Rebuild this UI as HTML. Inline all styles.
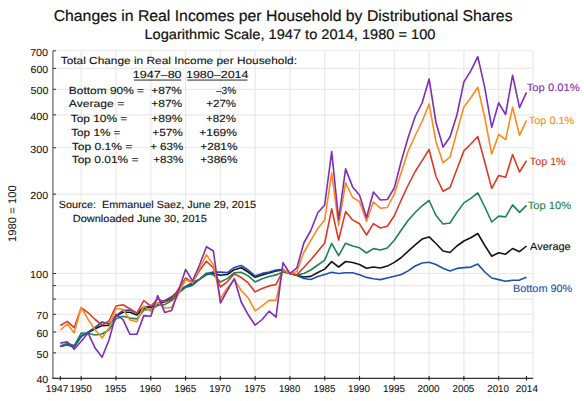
<!DOCTYPE html>
<html><head><meta charset="utf-8"><style>
html,body{margin:0;padding:0;background:#fff;overflow:hidden;}
svg{display:block;font-family:"Liberation Sans",sans-serif;text-rendering:geometricPrecision;}
</style></head><body>
<svg width="584" height="401" viewBox="0 0 584 401">
<rect width="584" height="401" fill="#fff"/>
<g stroke="#e9e9e9" stroke-width="1.2">
<line x1="53" x2="533" y1="378.38" y2="378.38"/>
<line x1="53" x2="533" y1="352.84" y2="352.84"/>
<line x1="53" x2="533" y1="331.97" y2="331.97"/>
<line x1="53" x2="533" y1="314.32" y2="314.32"/>
<line x1="53" x2="533" y1="299.04" y2="299.04"/>
<line x1="53" x2="533" y1="285.56" y2="285.56"/>
<line x1="53" x2="533" y1="273.50" y2="273.50"/>
<line x1="53" x2="533" y1="194.16" y2="194.16"/>
<line x1="53" x2="533" y1="147.75" y2="147.75"/>
<line x1="53" x2="533" y1="114.83" y2="114.83"/>
<line x1="53" x2="533" y1="89.29" y2="89.29"/>
<line x1="53" x2="533" y1="68.42" y2="68.42"/>
<line x1="53" x2="533" y1="50.77" y2="50.77"/>
<line x1="81.19" x2="81.19" y1="50.77" y2="378"/>
<line x1="115.98" x2="115.98" y1="50.77" y2="378"/>
<line x1="150.77" x2="150.77" y1="50.77" y2="378"/>
<line x1="185.56" x2="185.56" y1="50.77" y2="378"/>
<line x1="220.35" x2="220.35" y1="50.77" y2="378"/>
<line x1="255.14" x2="255.14" y1="50.77" y2="378"/>
<line x1="289.93" x2="289.93" y1="50.77" y2="378"/>
<line x1="324.72" x2="324.72" y1="50.77" y2="378"/>
<line x1="359.51" x2="359.51" y1="50.77" y2="378"/>
<line x1="394.30" x2="394.30" y1="50.77" y2="378"/>
<line x1="429.09" x2="429.09" y1="50.77" y2="378"/>
<line x1="463.88" x2="463.88" y1="50.77" y2="378"/>
<line x1="498.67" x2="498.67" y1="50.77" y2="378"/>
<line x1="533.0" x2="533.0" y1="50.77" y2="378"/>
</g>
<text x="60.72" y="64.30" font-size="10.30" fill="#111" stroke="#111" stroke-width="0.12" textLength="236.23" lengthAdjust="spacingAndGlyphs" xml:space="preserve">Total Change in Real Income per Household:</text>
<text x="132.73" y="78.40" font-size="10.30" fill="#111" stroke="#111" stroke-width="0.12" textLength="48.90" lengthAdjust="spacingAndGlyphs" xml:space="preserve">1947–80</text>
<text x="185.97" y="78.40" font-size="10.30" fill="#111" stroke="#111" stroke-width="0.12" textLength="62.52" lengthAdjust="spacingAndGlyphs" xml:space="preserve">1980–2014</text>
<text x="68.81" y="93.90" font-size="10.30" fill="#111" stroke="#111" stroke-width="0.12" textLength="75.26" lengthAdjust="spacingAndGlyphs" xml:space="preserve">Bottom 90% =</text>
<text x="68.82" y="107.00" font-size="10.30" fill="#111" stroke="#111" stroke-width="0.12" textLength="55.44" lengthAdjust="spacingAndGlyphs" xml:space="preserve">Average =</text>
<text x="70.74" y="121.60" font-size="10.30" fill="#111" stroke="#111" stroke-width="0.12" textLength="56.57" lengthAdjust="spacingAndGlyphs" xml:space="preserve">Top 10% =</text>
<text x="71.19" y="135.70" font-size="10.30" fill="#111" stroke="#111" stroke-width="0.12" textLength="49.28" lengthAdjust="spacingAndGlyphs" xml:space="preserve">Top 1% =</text>
<text x="71.81" y="149.50" font-size="10.30" fill="#111" stroke="#111" stroke-width="0.12" textLength="60.47" lengthAdjust="spacingAndGlyphs" xml:space="preserve">Top 0.1% =</text>
<text x="71.72" y="163.10" font-size="10.30" fill="#111" stroke="#111" stroke-width="0.12" textLength="66.76" lengthAdjust="spacingAndGlyphs" xml:space="preserve">Top 0.01% =</text>
<text x="151.22" y="93.90" font-size="10.30" fill="#111" stroke="#111" stroke-width="0.12" textLength="30.62" lengthAdjust="spacingAndGlyphs" xml:space="preserve">+87%</text>
<text x="151.27" y="107.00" font-size="10.30" fill="#111" stroke="#111" stroke-width="0.12" textLength="31.00" lengthAdjust="spacingAndGlyphs" xml:space="preserve">+87%</text>
<text x="151.17" y="121.60" font-size="10.30" fill="#111" stroke="#111" stroke-width="0.12" textLength="31.24" lengthAdjust="spacingAndGlyphs" xml:space="preserve">+89%</text>
<text x="152.26" y="135.70" font-size="10.30" fill="#111" stroke="#111" stroke-width="0.12" textLength="30.54" lengthAdjust="spacingAndGlyphs" xml:space="preserve">+57%</text>
<text x="150.16" y="149.50" font-size="10.30" fill="#111" stroke="#111" stroke-width="0.12" textLength="33.12" lengthAdjust="spacingAndGlyphs" xml:space="preserve">+ 63%</text>
<text x="153.19" y="163.10" font-size="10.30" fill="#111" stroke="#111" stroke-width="0.12" textLength="30.09" lengthAdjust="spacingAndGlyphs" xml:space="preserve">+83%</text>
<text x="215.94" y="93.90" font-size="10.30" fill="#111" stroke="#111" stroke-width="0.12" textLength="20.15" lengthAdjust="spacingAndGlyphs" xml:space="preserve">–3%</text>
<text x="206.31" y="107.00" font-size="10.30" fill="#111" stroke="#111" stroke-width="0.12" textLength="29.83" lengthAdjust="spacingAndGlyphs" xml:space="preserve">+27%</text>
<text x="206.14" y="121.60" font-size="10.30" fill="#111" stroke="#111" stroke-width="0.12" textLength="29.82" lengthAdjust="spacingAndGlyphs" xml:space="preserve">+82%</text>
<text x="199.17" y="135.70" font-size="10.30" fill="#111" stroke="#111" stroke-width="0.12" textLength="37.87" lengthAdjust="spacingAndGlyphs" xml:space="preserve">+169%</text>
<text x="200.25" y="149.50" font-size="10.30" fill="#111" stroke="#111" stroke-width="0.12" textLength="37.22" lengthAdjust="spacingAndGlyphs" xml:space="preserve">+281%</text>
<text x="200.20" y="163.10" font-size="10.30" fill="#111" stroke="#111" stroke-width="0.12" textLength="37.30" lengthAdjust="spacingAndGlyphs" xml:space="preserve">+386%</text>
<text x="58.70" y="208.30" font-size="10.30" fill="#111" stroke="#111" stroke-width="0.12" textLength="197.23" lengthAdjust="spacingAndGlyphs" xml:space="preserve">Source:  Emmanuel Saez, June 29, 2015</text>
<text x="72.72" y="221.90" font-size="10.30" fill="#111" stroke="#111" stroke-width="0.12" textLength="134.06" lengthAdjust="spacingAndGlyphs" xml:space="preserve">Downloaded June 30, 2015</text>
<rect x="134" y="79.6" width="47.2" height="0.9" fill="#111"/>
<rect x="187.3" y="79.6" width="60.2" height="0.9" fill="#111"/>
<g fill="none" stroke-width="1.6" stroke-linejoin="round">
<polyline stroke="#141414" points="60.3,346.5 67.3,344.8 74.2,346.6 81.2,336.2 88.2,332.5 95.1,328.7 102.1,325.6 109.0,325.3 116.0,316.2 122.9,312.2 129.9,312.2 136.9,315.0 143.8,308.1 150.8,307.2 157.7,304.3 164.7,301.8 171.6,298.7 178.6,291.8 185.6,286.8 192.5,283.7 199.5,279.4 206.4,274.5 213.4,273.6 220.4,275.3 227.3,274.5 234.3,269.7 241.2,267.8 248.2,272.0 255.1,277.3 262.1,274.9 269.1,272.9 276.0,271.0 283.0,270.0 289.9,273.5 296.9,275.3 303.8,277.0 310.8,276.4 317.8,272.5 324.7,269.1 331.7,261.6 338.6,267.0 345.6,261.5 352.6,262.5 359.5,264.5 366.5,268.3 373.4,267.0 380.4,268.0 387.3,266.1 394.3,262.4 401.3,257.5 408.2,251.2 415.2,244.8 422.1,239.1 429.1,236.9 436.0,243.5 443.0,251.0 450.0,252.5 456.9,246.0 463.9,241.0 470.8,237.8 477.8,233.5 484.8,245.5 491.7,256.2 498.7,252.7 505.6,254.2 512.6,248.5 519.5,251.7 526.5,246.0"/>
<polyline stroke="#1f4fb4" points="60.3,345.9 67.3,345.0 74.2,347.0 81.2,336.2 88.2,331.9 95.1,327.5 102.1,322.0 109.0,324.0 116.0,315.6 122.9,310.6 129.9,310.0 136.9,313.1 143.8,306.8 150.8,306.2 157.7,303.7 164.7,300.6 171.6,296.8 178.6,290.6 185.6,286.4 192.5,282.7 199.5,279.1 206.4,273.6 213.4,272.1 220.4,272.1 227.3,272.6 234.3,267.4 241.2,265.5 248.2,270.0 255.1,275.9 262.1,273.4 269.1,272.0 276.0,270.0 283.0,269.4 289.9,273.5 296.9,275.5 303.8,278.5 310.8,279.5 317.8,276.4 324.7,274.4 331.7,272.3 338.6,273.5 345.6,272.7 352.6,272.7 359.5,274.7 366.5,277.4 373.4,278.7 380.4,279.6 387.3,278.0 394.3,276.3 401.3,274.5 408.2,270.9 415.2,266.0 422.1,263.0 429.1,262.2 436.0,264.5 443.0,268.2 450.0,270.9 456.9,268.4 463.9,267.6 470.8,267.1 477.8,264.1 484.8,272.0 491.7,278.0 498.7,279.6 505.6,281.2 512.6,280.3 519.5,280.1 526.5,277.2"/>
<polyline stroke="#1e8450" points="60.3,346.3 67.3,343.3 74.2,345.6 81.2,333.1 88.2,333.5 95.1,335.0 102.1,334.0 109.0,329.7 116.0,318.7 122.9,316.2 129.9,318.1 136.9,318.9 143.8,310.0 150.8,309.5 157.7,305.5 164.7,304.6 171.6,300.9 178.6,293.1 185.6,287.5 192.5,285.5 199.5,279.5 206.4,273.2 213.4,274.9 220.4,282.0 227.3,278.6 234.3,272.7 241.2,272.3 248.2,275.9 255.1,281.9 262.1,278.7 269.1,276.5 276.0,274.9 283.0,272.0 289.9,273.5 296.9,275.0 303.8,273.5 310.8,270.0 317.8,265.0 324.7,260.1 331.7,243.3 338.6,255.7 345.6,243.2 352.6,246.0 359.5,247.8 366.5,253.0 373.4,248.6 380.4,250.0 387.3,248.0 394.3,240.3 401.3,230.0 408.2,220.2 415.2,212.5 422.1,205.8 429.1,200.5 436.0,215.5 443.0,224.0 450.0,223.0 456.9,212.4 463.9,202.9 470.8,198.4 477.8,192.9 484.8,207.0 491.7,222.0 498.7,216.1 505.6,216.9 512.6,204.9 519.5,212.4 526.5,205.4"/>
<polyline stroke="#dd3a26" points="60.3,325.5 67.3,321.4 74.2,327.7 81.2,307.7 88.2,312.8 95.1,319.5 102.1,325.0 109.0,321.0 116.0,306.0 122.9,304.7 129.9,308.7 136.9,313.1 143.8,300.6 150.8,306.0 157.7,299.0 164.7,302.0 171.6,299.7 178.6,288.7 185.6,278.0 192.5,282.7 199.5,270.5 206.4,261.2 213.4,268.0 220.4,287.0 227.3,281.8 234.3,273.8 241.2,277.5 248.2,282.9 255.1,291.9 262.1,288.5 269.1,285.9 276.0,284.5 283.0,270.5 289.9,273.5 296.9,274.8 303.8,267.5 310.8,259.8 317.8,251.5 324.7,243.0 331.7,208.9 338.6,240.0 345.6,211.6 352.6,219.9 359.5,223.8 366.5,235.0 373.4,223.6 380.4,228.0 387.3,226.2 394.3,215.8 401.3,199.8 408.2,185.0 415.2,171.5 422.1,160.6 429.1,149.5 436.0,176.5 443.0,191.2 450.0,187.5 456.9,169.3 463.9,150.9 470.8,144.0 477.8,136.5 484.8,162.3 491.7,188.4 498.7,175.5 505.6,177.2 512.6,154.5 519.5,172.0 526.5,160.7"/>
<polyline stroke="#ff8a1c" points="60.3,330.0 67.3,324.1 74.2,332.9 81.2,307.4 88.2,319.5 95.1,329.8 102.1,338.0 109.0,328.0 116.0,308.5 122.9,309.3 129.9,319.9 136.9,321.8 143.8,306.2 150.8,311.5 157.7,302.4 164.7,308.0 171.6,307.4 178.6,293.7 185.6,279.6 192.5,283.0 199.5,268.5 206.4,254.6 213.4,265.0 220.4,298.8 227.3,288.0 234.3,279.5 241.2,290.5 248.2,297.9 255.1,310.8 262.1,305.8 269.1,300.4 276.0,300.4 283.0,269.4 289.9,273.5 296.9,271.5 303.8,252.5 310.8,240.3 317.8,228.4 324.7,220.0 331.7,172.9 338.6,225.3 345.6,182.9 352.6,197.5 359.5,201.5 366.5,221.4 373.4,202.0 380.4,208.2 387.3,207.5 394.3,194.0 401.3,172.3 408.2,151.0 415.2,135.5 422.1,121.5 429.1,104.0 436.0,142.0 443.0,162.8 450.0,157.0 456.9,131.9 463.9,107.0 470.8,97.8 477.8,87.3 484.8,118.0 491.7,154.0 498.7,134.4 505.6,139.6 512.6,107.2 519.5,135.3 526.5,120.4"/>
<polyline stroke="#7f2eb6" points="60.3,343.1 67.3,341.8 74.2,349.3 81.2,341.2 88.2,333.1 95.1,348.1 102.1,357.2 109.0,340.0 116.0,314.3 122.9,319.3 129.9,334.3 136.9,334.3 143.8,315.6 150.8,316.2 157.7,295.6 164.7,312.4 171.6,310.5 178.6,290.6 185.6,269.4 192.5,281.0 199.5,265.0 206.4,246.8 213.4,251.0 220.4,303.0 227.3,290.5 234.3,278.6 241.2,302.0 248.2,314.8 255.1,325.2 262.1,319.5 269.1,311.2 276.0,317.2 283.0,262.6 289.9,273.5 296.9,267.8 303.8,243.0 310.8,230.5 317.8,212.8 324.7,205.0 331.7,151.6 338.6,219.5 345.6,168.9 352.6,186.9 359.5,195.0 366.5,217.8 373.4,192.0 380.4,200.0 387.3,199.5 394.3,188.0 401.3,161.0 408.2,137.2 415.2,116.5 422.1,103.0 429.1,79.0 436.0,122.5 443.0,147.0 450.0,137.0 456.9,115.0 463.9,81.9 470.8,70.9 477.8,56.6 484.8,87.9 491.7,127.4 498.7,102.8 505.6,114.5 512.6,75.2 519.5,107.6 526.5,92.3"/>
</g>
<line x1="52.9" x2="52.9" y1="50.77" y2="378.9" stroke="#7a7a7a" stroke-width="1.4"/>
<line x1="52.5" x2="533.2" y1="378.4" y2="378.4" stroke="#333" stroke-width="1.1"/>
<g stroke="#333" stroke-width="1">
<line x1="53" x2="56" y1="378.38" y2="378.38"/>
<line x1="53" x2="56" y1="352.84" y2="352.84"/>
<line x1="53" x2="56" y1="331.97" y2="331.97"/>
<line x1="53" x2="56" y1="314.32" y2="314.32"/>
<line x1="53" x2="56" y1="299.04" y2="299.04"/>
<line x1="53" x2="56" y1="285.56" y2="285.56"/>
<line x1="53" x2="56" y1="273.50" y2="273.50"/>
<line x1="53" x2="56" y1="194.16" y2="194.16"/>
<line x1="53" x2="56" y1="147.75" y2="147.75"/>
<line x1="53" x2="56" y1="114.83" y2="114.83"/>
<line x1="53" x2="56" y1="89.29" y2="89.29"/>
<line x1="53" x2="56" y1="68.42" y2="68.42"/>
<line x1="53" x2="56" y1="50.77" y2="50.77"/>
</g>
<g stroke="#222" stroke-width="1.1">
<line x1="60.32" x2="60.32" y1="376" y2="380.5"/>
<line x1="81.19" x2="81.19" y1="376" y2="380.5"/>
<line x1="115.98" x2="115.98" y1="376" y2="380.5"/>
<line x1="150.77" x2="150.77" y1="376" y2="380.5"/>
<line x1="185.56" x2="185.56" y1="376" y2="380.5"/>
<line x1="220.35" x2="220.35" y1="376" y2="380.5"/>
<line x1="255.14" x2="255.14" y1="376" y2="380.5"/>
<line x1="289.93" x2="289.93" y1="376" y2="380.5"/>
<line x1="324.72" x2="324.72" y1="376" y2="380.5"/>
<line x1="359.51" x2="359.51" y1="376" y2="380.5"/>
<line x1="394.30" x2="394.30" y1="376" y2="380.5"/>
<line x1="429.09" x2="429.09" y1="376" y2="380.5"/>
<line x1="463.88" x2="463.88" y1="376" y2="380.5"/>
<line x1="498.67" x2="498.67" y1="376" y2="380.5"/>
<line x1="526.50" x2="526.50" y1="376" y2="380.5"/>
</g>
<text x="0" y="0" transform="translate(16.2 213.6) rotate(-90)" text-anchor="middle" font-size="11.2" fill="#111" textLength="56.8" lengthAdjust="spacingAndGlyphs">1980 = 100</text>
<text x="53.65" y="20.90" font-size="15.60" fill="#111" stroke="#111" stroke-width="0.2" textLength="458.91" lengthAdjust="spacingAndGlyphs" xml:space="preserve">Changes in Real Incomes per Household by Distributional Shares</text>
<text x="144.42" y="39.40" font-size="13.90" fill="#111" stroke="#111" stroke-width="0.2" textLength="291.04" lengthAdjust="spacingAndGlyphs" xml:space="preserve">Logarithmic Scale, 1947 to 2014, 1980 = 100</text>
<text x="526.73" y="91.20" font-size="10.60" fill="#7f2eb6" stroke="#7f2eb6" stroke-width="0.12" textLength="53.01" lengthAdjust="spacingAndGlyphs" xml:space="preserve">Top 0.01%</text>
<text x="528.74" y="123.60" font-size="10.60" fill="#ff8a1c" stroke="#ff8a1c" stroke-width="0.12" textLength="45.62" lengthAdjust="spacingAndGlyphs" xml:space="preserve">Top 0.1%</text>
<text x="529.76" y="164.80" font-size="10.60" fill="#dd3a26" stroke="#dd3a26" stroke-width="0.12" textLength="35.97" lengthAdjust="spacingAndGlyphs" xml:space="preserve">Top 1%</text>
<text x="527.80" y="209.20" font-size="10.60" fill="#1e8450" stroke="#1e8450" stroke-width="0.12" textLength="43.36" lengthAdjust="spacingAndGlyphs" xml:space="preserve">Top 10%</text>
<text x="530.11" y="249.80" font-size="10.60" fill="#111" stroke="#111" stroke-width="0.12" textLength="40.62" lengthAdjust="spacingAndGlyphs" xml:space="preserve">Average</text>
<text x="513.04" y="292.10" font-size="10.60" fill="#1f4fb4" stroke="#1f4fb4" stroke-width="0.12" textLength="59.24" lengthAdjust="spacingAndGlyphs" xml:space="preserve">Bottom 90%</text>
<text x="36.41" y="383.28" font-size="10.30" fill="#111" stroke="#111" stroke-width="0.08" textLength="11.84" lengthAdjust="spacingAndGlyphs" xml:space="preserve">40</text>
<text x="36.56" y="357.74" font-size="10.30" fill="#111" stroke="#111" stroke-width="0.08" textLength="11.77" lengthAdjust="spacingAndGlyphs" xml:space="preserve">50</text>
<text x="36.44" y="336.87" font-size="10.30" fill="#111" stroke="#111" stroke-width="0.08" textLength="11.74" lengthAdjust="spacingAndGlyphs" xml:space="preserve">60</text>
<text x="36.20" y="319.22" font-size="10.30" fill="#111" stroke="#111" stroke-width="0.08" textLength="11.94" lengthAdjust="spacingAndGlyphs" xml:space="preserve">70</text>
<text x="30.12" y="278.40" font-size="10.30" fill="#111" stroke="#111" stroke-width="0.08" textLength="18.05" lengthAdjust="spacingAndGlyphs" xml:space="preserve">100</text>
<text x="30.38" y="199.06" font-size="10.30" fill="#111" stroke="#111" stroke-width="0.08" textLength="17.76" lengthAdjust="spacingAndGlyphs" xml:space="preserve">200</text>
<text x="30.21" y="152.65" font-size="10.30" fill="#111" stroke="#111" stroke-width="0.08" textLength="18.03" lengthAdjust="spacingAndGlyphs" xml:space="preserve">300</text>
<text x="30.37" y="119.73" font-size="10.30" fill="#111" stroke="#111" stroke-width="0.08" textLength="17.95" lengthAdjust="spacingAndGlyphs" xml:space="preserve">400</text>
<text x="30.57" y="94.19" font-size="10.30" fill="#111" stroke="#111" stroke-width="0.08" textLength="17.84" lengthAdjust="spacingAndGlyphs" xml:space="preserve">500</text>
<text x="30.62" y="73.32" font-size="10.30" fill="#111" stroke="#111" stroke-width="0.08" textLength="17.59" lengthAdjust="spacingAndGlyphs" xml:space="preserve">600</text>
<text x="30.15" y="55.67" font-size="10.30" fill="#111" stroke="#111" stroke-width="0.08" textLength="17.96" lengthAdjust="spacingAndGlyphs" xml:space="preserve">700</text>
<text x="45.71" y="391.70" font-size="10.00" fill="#111" stroke="#111" stroke-width="0.08" textLength="22.62" lengthAdjust="spacingAndGlyphs" xml:space="preserve">1947</text>
<text x="69.66" y="391.70" font-size="10.00" fill="#111" stroke="#111" stroke-width="0.08" textLength="22.09" lengthAdjust="spacingAndGlyphs" xml:space="preserve">1950</text>
<text x="104.65" y="391.70" font-size="10.00" fill="#111" stroke="#111" stroke-width="0.08" textLength="21.79" lengthAdjust="spacingAndGlyphs" xml:space="preserve">1955</text>
<text x="139.60" y="391.70" font-size="10.00" fill="#111" stroke="#111" stroke-width="0.08" textLength="21.59" lengthAdjust="spacingAndGlyphs" xml:space="preserve">1960</text>
<text x="174.43" y="391.70" font-size="10.00" fill="#111" stroke="#111" stroke-width="0.08" textLength="21.87" lengthAdjust="spacingAndGlyphs" xml:space="preserve">1965</text>
<text x="209.34" y="391.70" font-size="10.00" fill="#111" stroke="#111" stroke-width="0.08" textLength="21.48" lengthAdjust="spacingAndGlyphs" xml:space="preserve">1970</text>
<text x="244.17" y="391.70" font-size="10.00" fill="#111" stroke="#111" stroke-width="0.08" textLength="21.54" lengthAdjust="spacingAndGlyphs" xml:space="preserve">1975</text>
<text x="278.91" y="391.70" font-size="10.00" fill="#111" stroke="#111" stroke-width="0.08" textLength="21.38" lengthAdjust="spacingAndGlyphs" xml:space="preserve">1980</text>
<text x="313.42" y="391.70" font-size="10.00" fill="#111" stroke="#111" stroke-width="0.08" textLength="22.02" lengthAdjust="spacingAndGlyphs" xml:space="preserve">1985</text>
<text x="348.09" y="391.70" font-size="10.00" fill="#111" stroke="#111" stroke-width="0.08" textLength="21.91" lengthAdjust="spacingAndGlyphs" xml:space="preserve">1990</text>
<text x="383.09" y="391.70" font-size="10.00" fill="#111" stroke="#111" stroke-width="0.08" textLength="21.86" lengthAdjust="spacingAndGlyphs" xml:space="preserve">1995</text>
<text x="417.40" y="391.70" font-size="10.00" fill="#111" stroke="#111" stroke-width="0.08" textLength="22.06" lengthAdjust="spacingAndGlyphs" xml:space="preserve">2000</text>
<text x="452.49" y="391.70" font-size="10.00" fill="#111" stroke="#111" stroke-width="0.08" textLength="21.83" lengthAdjust="spacingAndGlyphs" xml:space="preserve">2005</text>
<text x="487.26" y="391.70" font-size="10.00" fill="#111" stroke="#111" stroke-width="0.08" textLength="21.70" lengthAdjust="spacingAndGlyphs" xml:space="preserve">2010</text>
<text x="515.77" y="391.70" font-size="10.00" fill="#111" stroke="#111" stroke-width="0.08" textLength="22.18" lengthAdjust="spacingAndGlyphs" xml:space="preserve">2014</text>
</svg>
</body></html>
